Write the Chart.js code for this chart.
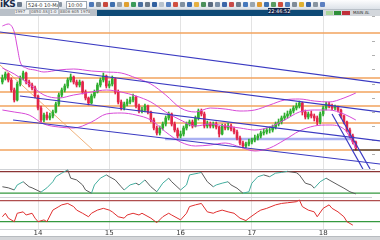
<!DOCTYPE html>
<html>
<head>
<meta charset="utf-8">
<title>Chart</title>
<script src="https://cdn.jsdelivr.net/npm/chart.js@4.4.1/dist/chart.umd.min.js"></script>
<style>
  html, body { margin: 0; padding: 0; background: #fff; overflow: hidden; }
  body { width: 380px; height: 240px; position: relative; font-family: 'DejaVu Sans', Arial, sans-serif; }
  #tb1 { position: absolute; left: 0; top: 0; width: 380px; height: 9px; background: linear-gradient(#fdfdfe, #dde2e8); }
  #tb1 .logo { position: absolute; left: 0; top: -1px; font: bold 9px 'DejaVu Sans', sans-serif; color: #1c2b4a; letter-spacing: -0.4px; }
  #tb1 .box { position: absolute; top: 1px; height: 6px; background: #fff; border: 1px solid #9ba6b2; font-size: 5px; line-height: 6px; color: #333; padding-left: 1px; white-space: nowrap; overflow: hidden; }
  #tb1 .ic { position: absolute; top: 2px; width: 5px; height: 5px; border-radius: 1px; }
  #tb2 { position: absolute; left: 0; top: 9px; width: 380px; height: 7px; background: #b9c0c8; }
  #tb2 .strip { position: absolute; left: 97px; top: 1px; width: 226px; height: 6px; background: #0e4a76; }
  #tb2 .right { position: absolute; left: 323px; top: 1px; width: 57px; height: 6px; background: #d3d7dc; font-size: 4px; line-height: 6px; color: #333; }
  #tb2 .cell { position: absolute; top: 1px; height: 4px; background: #eef0f2; font-size: 4px; line-height: 4px; color: #555; white-space: nowrap; overflow: hidden; }
  #clock { position: absolute; left: 268px; top: 8px; width: 22px; height: 6px; background: #13254c; color: #fff; font-size: 5px; line-height: 6px; text-align: center; }
  #wrap { position: absolute; left: 0; top: 16px; width: 380px; height: 220px; }
  #scroll { position: absolute; left: 0; top: 236px; width: 380px; height: 4px; background: #d4d6d9; border-top: 1px solid #b8bcc0; box-sizing: border-box; }
</style>
</head>
<body>
<div id="tb1">
  <span class="logo">iKS</span>
  <span class="ic" style="left:17px;background:#6c7a8c"></span>
  <span class="box" style="left:26px;width:30px">524-0 10-Ma</span>
  <span class="ic" style="left:59px;background:#8a96a4;width:3px"></span>
  <span class="box" style="left:66px;width:18px">10:00</span>
</div>
<div id="tb2">
  <span class="cell" style="left:15px;width:14px">1997</span>
  <span class="cell" style="left:31px;width:17px">0850 AS</span>
  <span class="cell" style="left:50px;width:8px">1:0</span>
  <span class="cell" style="left:60px;width:30px">8806 605 1978</span>
  <div class="strip"></div>
  <div class="right">
    <span style="position:absolute;left:3px;top:1px;width:7px;height:4px;background:#a9d69a"></span>
    <span style="position:absolute;left:11px;top:1px;width:7px;height:4px;background:#2f8f3a"></span>
    <span style="position:absolute;left:19px;top:1px;width:8px;height:4px;background:#c0303a"></span>
    <span style="position:absolute;left:30px;top:0">MAIN AL</span>
  </div>
</div>
<div id="clock">22:46:52</div>
<div id="wrap"><canvas id="c"></canvas></div>
<div id="scroll"></div>
<script>
// hourly candles, index 0 = first bar on the left
const dayTicks = [12, 36, 60, 84, 108];
const dayLabels = ['14', '15', '16', '17', '18'];

const opens = [
  86, 90, 94, 88, 78, 68, 84, 90, 95, 86,
  83, 80, 72, 60, 48, 53, 50, 52, 56, 64,
  73, 78, 82, 88, 91, 86, 83, 86, 76, 70,
  65, 72, 76, 83, 88, 92, 82, 84, 89, 76,
  66, 60, 64, 66, 68, 71, 62, 57, 58, 62,
  56, 48, 40, 35, 40, 44, 50, 54, 44, 38,
  32, 34, 40, 44, 46, 42, 50, 57, 54, 42,
  44, 42, 44, 41, 34, 42, 40, 42, 39, 36,
  30, 25, 22, 24, 26, 28, 30, 32, 35, 36,
  38, 38, 41, 44, 46, 50, 52, 54, 57, 60,
  62, 65, 56, 51, 54, 52, 50, 46, 54, 60,
  64, 62, 60, 61, 58, 52, 46, 38, 32, 26
];
const highs = [
  93, 96, 95, 90, 80, 86, 92, 97, 96, 88,
  85, 82, 73, 62, 55, 56, 55, 58, 66, 75,
  80, 84, 90, 94, 92, 88, 88, 87, 78, 71,
  74, 78, 85, 90, 95, 93, 87, 92, 90, 78,
  68, 66, 69, 71, 74, 72, 64, 61, 64, 63,
  57, 50, 42, 42, 46, 52, 56, 55, 46, 40,
  37, 42, 46, 48, 48, 52, 59, 59, 56, 47,
  46, 46, 46, 42, 44, 44, 45, 44, 41, 38,
  32, 27, 26, 29, 30, 33, 34, 37, 39, 40,
  41, 43, 46, 49, 52, 55, 57, 59, 62, 65,
  67, 66, 58, 56, 57, 54, 52, 56, 62, 66,
  66, 64, 63, 62, 59, 53, 47, 40, 34, 27
];
const lows = [
  84, 88, 86, 76, 66, 67, 82, 88, 84, 81,
  78, 70, 58, 46, 46, 48, 48, 50, 55, 62,
  71, 76, 80, 86, 84, 81, 81, 74, 68, 63,
  64, 70, 75, 81, 86, 80, 80, 82, 74, 64,
  58, 58, 62, 64, 66, 60, 55, 55, 56, 54,
  46, 38, 33, 33, 38, 42, 48, 42, 36, 30,
  30, 32, 38, 42, 40, 41, 48, 52, 40, 40,
  40, 40, 39, 31, 33, 38, 38, 37, 34, 28,
  23, 20, 20, 22, 24, 26, 28, 30, 33, 34,
  35, 36, 39, 42, 44, 48, 50, 52, 55, 58,
  60, 53, 49, 49, 50, 47, 43, 44, 52, 58,
  60, 58, 58, 56, 50, 44, 36, 30, 24, 18
];
const closes = [
  90, 94, 88, 78, 68, 84, 90, 95, 86, 83,
  80, 72, 60, 48, 53, 50, 52, 56, 64, 73,
  78, 82, 88, 91, 86, 83, 86, 76, 70, 65,
  72, 76, 83, 88, 92, 82, 84, 89, 76, 66,
  60, 64, 66, 68, 71, 62, 57, 58, 62, 56,
  48, 40, 35, 40, 44, 50, 54, 44, 38, 32,
  34, 40, 44, 46, 42, 50, 57, 54, 42, 44,
  42, 44, 41, 34, 42, 40, 42, 39, 36, 30,
  25, 22, 24, 26, 28, 30, 32, 35, 36, 38,
  38, 41, 44, 46, 50, 52, 54, 57, 60, 62,
  65, 56, 51, 54, 52, 50, 46, 54, 60, 64,
  62, 60, 61, 58, 52, 46, 38, 32, 26, 20
];

// bollinger bands
const upperIdx = [0, 2, 4, 5, 6, 8, 11, 14, 19, 24, 30, 35, 40, 45, 50, 55, 60, 65, 70, 75, 80, 85, 90, 95, 100, 105, 110, 115, 119];
const upperBand = [142, 144, 136, 121, 106, 100, 98, 96, 98, 99, 97, 96, 95, 90, 84, 73, 60, 56, 60, 59, 57, 58, 63, 68, 69, 67, 66, 70, 75];
const bandIdx = [0, 4, 9, 14, 19, 24, 30, 35, 40, 45, 50, 55, 60, 65, 70, 75, 80, 85, 90, 95, 100, 105, 110, 115, 119];
const middleBand = [100, 94, 84, 73, 70, 73, 76, 78, 76, 72, 66, 56, 48, 42, 44, 42, 40, 38, 41, 48, 56, 58, 58, 54, 48];
const lowerBand = [58, 56, 53, 44, 41, 40, 46, 54, 55, 53, 48, 36, 26, 22, 23, 25, 21, 17, 20, 28, 37, 42, 43, 39, 20];

// drawn lines: [x0, y0, x1, y1] in bar index / price units
const supportLevels = [135, 90, 76, 62, 45, 18];
const channelLines = [
  [-0.8, 136, 127.2, 85],
  [-0.8, 105, 127.2, 56],
  [5.9, 72, 127.2, 27],
  [3.6, 48, 127.2, 4],
  [111.0, 54, 121.4, -1],
  [113.3, 54, 123.8, -1]
];
const fanLine = [-0.8, 103, 30.5, 18];
const pivotLine = [54.8, 29, 117.7, 29];
const lastPriceLine = [118, 18, 127.2, 18];

// oscillators
const stochIdx = [0, 2, 4, 5, 7, 9, 10, 13, 15, 17, 18, 20, 22, 23, 25, 27, 28, 30, 31, 33,
  35, 36, 38, 40, 41, 43, 45, 46, 48, 50, 52, 54, 56, 57, 60, 62, 63, 66, 67, 69,
  71, 72, 74, 76, 77, 79, 81, 83, 84, 86, 88, 90, 92, 94, 96, 99, 100, 102, 104, 105,
  107, 109, 110, 113, 115, 117, 119];
const stochValues = [38, 35, 29, 43, 52, 38, 35, 23, 35, 52, 66, 76, 85, 62, 57, 43, 29, 20, 43, 62,
  71, 66, 57, 38, 29, 43, 48, 43, 57, 38, 24, 48, 62, 52, 29, 43, 71, 76, 78, 52,
  38, 43, 48, 52, 43, 34, 20, 24, 48, 66, 71, 66, 76, 78, 81, 77, 71, 48, 43, 34,
  52, 62, 57, 43, 34, 24, 18];
const rsiIdx = [0, 1, 2, 4, 5, 7, 8, 10, 11, 12, 14, 15, 17, 19, 20, 22, 24, 25, 27, 29,
  30, 32, 34, 36, 37, 39, 41, 42, 44, 46, 47, 50, 52, 54, 56, 57, 60, 62, 63, 65,
  67, 69, 71, 72, 74, 76, 78, 80, 82, 83, 86, 87, 89, 92, 94, 96, 99, 100, 101, 103,
  105, 106, 108, 110, 111, 113, 115, 116, 118];
const rsiValues = [34, 44, 30, 20, 44, 48, 39, 44, 30, 20, 25, 20, 53, 63, 68, 72, 63, 53, 44, 34,
  44, 53, 58, 53, 48, 34, 30, 39, 44, 39, 44, 30, 17, 34, 44, 39, 25, 44, 63, 68,
  72, 48, 44, 48, 53, 48, 44, 30, 23, 30, 48, 53, 58, 68, 72, 74, 77, 82, 63, 53,
  48, 34, 58, 68, 58, 48, 34, 20, 10];
const stochLevels = [80, 20];
const rsiLevels = [80, 20];

const X_MIN = -0.8, X_MAX = 124.45;

function seg(p, color, width, axis, order) {
  return {
    type: 'line',
    data: [{ x: p[0], y: p[1] }, { x: p[2], y: p[3] }],
    borderColor: color,
    borderWidth: width,
    pointRadius: 0,
    yAxisID: axis,
    clip: { left: 1, top: 0, right: 10, bottom: 0 },
    order: order
  };
}

function curve(xs, ys, color, axis) {
  return {
    type: 'line',
    data: xs.map((x, i) => ({ x: x, y: ys[i] })),
    borderColor: color,
    borderWidth: 1,
    pointRadius: 0,
    yAxisID: axis,
    order: 2
  };
}

const candleColor = ctx => closes[ctx.dataIndex] >= opens[ctx.dataIndex] ? '#2fae2f' : '#e2264a';

const datasets = [];
supportLevels.forEach(v => datasets.push(seg([X_MIN, v, 127.2, v], '#f2a35e', 1.5, 'y', 6)));
datasets.push(seg(fanLine, '#f0b27c', 1, 'y', 6));
datasets.push(seg(pivotLine, '#a9b0f2', 2.5, 'y', 5));

datasets.push({
  type: 'bar',
  data: closes.map((c, i) => ({ x: i, y: [lows[i], highs[i]] })),
  backgroundColor: candleColor,
  barThickness: 1,
  grouped: false,
  yAxisID: 'y',
  order: 4
});
datasets.push({
  type: 'bar',
  data: closes.map((c, i) => ({ x: i, y: [opens[i], c] })),
  backgroundColor: candleColor,
  barThickness: 2,
  grouped: false,
  yAxisID: 'y',
  order: 4
});

const bands = [curve(upperIdx, upperBand, '#d74ad7', 'y'), curve(bandIdx, middleBand, '#d74ad7', 'y'), curve(bandIdx, lowerBand, '#d74ad7', 'y')];
bands.forEach(b => { b.cubicInterpolationMode = 'monotone'; datasets.push(b); });

channelLines.forEach(l => datasets.push(seg(l, '#3a3ac2', 1.2, 'y', 1)));
datasets.push(seg(lastPriceLine, '#1a1a1a', 1, 'y', 1));

datasets.push(seg([X_MIN, stochLevels[0], 127.2, stochLevels[0]], '#8b3434', 1.2, 'y2', 3));
datasets.push(seg([X_MIN, stochLevels[1], 127.2, stochLevels[1]], '#35993f', 1.2, 'y2', 3));
const stoch = curve(stochIdx, stochValues, '#43ae9f', 'y2');
stoch.segment = { borderColor: c => c.p1.parsed.y < c.p0.parsed.y ? '#5c5c5c' : '#43ae9f' };
datasets.push(stoch);

datasets.push(seg([X_MIN, rsiLevels[0], 127.2, rsiLevels[0]], '#b04e4e', 1.2, 'y3', 3));
datasets.push(seg([X_MIN, rsiLevels[1], 127.2, rsiLevels[1]], '#35993f', 1.2, 'y3', 3));
datasets.push(curve(rsiIdx, rsiValues, '#e02f2f', 'y3'));

const paneAxis = (weight, min, max, lines) => ({
  position: 'right',
  stack: 'panes',
  stackWeight: weight,
  min: min,
  max: max,
  afterBuildTicks: s => { s.ticks = lines.map(v => ({ value: v })); },
  ticks: { display: false },
  grid: { color: '#cfd2d6', drawTicks: false },
  border: { display: false },
  afterFit: s => { s.width = 8; }
});

new Chart(document.getElementById('c'), {
  type: 'line',
  data: { datasets: datasets },
  options: {
    responsive: true,
    maintainAspectRatio: false,
    animation: false,
    events: [],
    layout: { padding: 0 },
    plugins: { legend: { display: false }, tooltip: { enabled: false } },
    scales: {
      x: {
        type: 'linear',
        min: X_MIN,
        max: X_MAX,
        offset: false,
        afterBuildTicks: s => { s.ticks = dayTicks.map(v => ({ value: v })); },
        ticks: {
          autoSkip: false,
          maxRotation: 0,
          padding: 0,
          color: '#3a3a3a',
          font: { family: 'DejaVu Sans', size: 7 },
          callback: v => dayLabels[dayTicks.indexOf(v)]
        },
        grid: { color: '#e3e3e3', drawTicks: false, offset: false },
        border: { display: false },
        afterFit: s => { s.height = 7; }
      },
      y: {
        position: 'right',
        stack: 'panes',
        stackWeight: 153,
        min: -1,
        max: 152,
        ticks: { display: false, stepSize: 14 },
        grid: { drawOnChartArea: false, tickLength: 3, color: '#b0b0b0' },
        border: { display: false },
        afterFit: s => { s.width = 8; }
      },
      y2: paneAxis(28.5, 8, 87.5, [87.5]),
      y3: paneAxis(31.5, -1, 89, [89, -1])
    }
  }
});

// toolbar icons
const iconColors = ['#4d78b8', '#7d8894', '#c8483c', '#3f6fae', '#9aa4ae', '#e0a030', '#3a9a5a', '#4a6fa0',
  '#6a7888', '#2f5f9f', '#b8c2cc', '#5580c0', '#d05040', '#8090a0', '#3c6cb0', '#e6b040',
  '#4a8f5a', '#5a6a80', '#7a8ea6', '#3b66a8', '#c84a48', '#6d7c8c', '#4477bb', '#99a5b0',
  '#e09a30', '#3e70b0', '#5a9a60', '#d04c3c', '#4f7dbb', '#7f8b97', '#e0b030', '#3a64a6',
  '#8894a0', '#5b7fc0'];
const tb = document.getElementById('tb1');
iconColors.forEach((col, i) => {
  const s = document.createElement('span');
  s.className = 'ic';
  s.style.left = (89 + i * 7) + 'px';
  s.style.background = col;
  tb.appendChild(s);
});
</script>
</body>
</html>
